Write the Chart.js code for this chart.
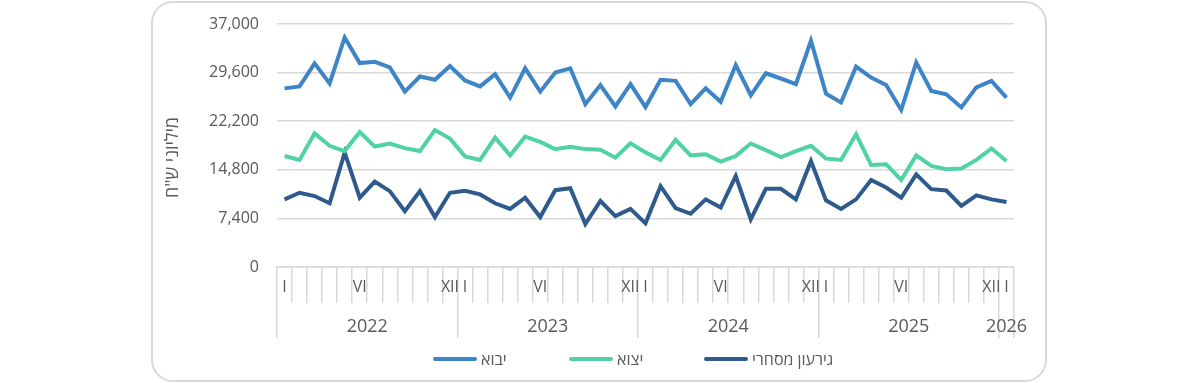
<!DOCTYPE html>
<html>
<head>
<meta charset="utf-8">
<script src="https://cdn.jsdelivr.net/npm/chart.js@4"></script>
<style>
html,body{margin:0;padding:0;background:#fff;width:1200px;height:383px;overflow:hidden;}
#frame{position:absolute;left:151px;top:1px;width:892px;height:377px;border:2px solid #d9d9d9;border-radius:22px;}
#chart{position:absolute;left:0;top:0;}
#legend{position:absolute;left:433px;top:347px;height:24px;display:flex;align-items:center;font-family:'Open Sans','Noto Sans','DejaVu Sans',sans-serif;font-size:16px;color:#595959;}
.item{display:flex;align-items:center;}
.swatch{width:44px;height:4px;border-radius:2px;}
.txt{margin-left:4px;white-space:nowrap;}
</style>
</head>
<body>
<div id="frame"></div>
<canvas id="chart" width="1200" height="383"></canvas>
<div id="legend"></div>
<script>
// ---- data ----
const monthTickLabels = [
  'I','','','','','VI','','','','','','XII',
  'I','','','','','VI','','','','','','XII',
  'I','','','','','VI','','','','','','XII',
  'I','','','','','VI','','','','','','XII',
  'I'
];
const yearLabels = ['2022','2023','2024','2025','2026'];
const yearCenters = [5.5, 17.5, 29.5, 41.5, 48];
const yearBoundaries = [-0.5, 11.5, 23.5, 35.5, 47.5, 48.5];
const yTickValues = [0, 7400, 14800, 22200, 29600, 37000];
const seriesNames = ['יבוא', 'יצוא', 'גירעון מסחרי'];
const seriesColors = ['#3d85c6', '#50d2a5', '#2f5a8c'];
const axisTitle = 'מיליוני ש"ח';

const imports = [
  27200,27500,31000,27950,34950,31050,31250,30400,26700,29000,28500,30600,
  28400,27500,29350,25800,30250,26700,29600,30250,24800,27700,24450,27850,
  24350,28500,28350,24800,27200,25150,30750,26150,29500,28700,27850,34450,
  26400,25050,30500,28850,27700,23900,31150,26800,26300,24300,27350,28350,
  25800
];
const exportsData = [
  16900,16300,20350,18450,17650,20550,18350,18800,18100,17650,20850,19550,
  16850,16300,19700,17000,19850,19050,17950,18300,17950,17850,16650,18850,
  17450,16300,19350,17000,17150,16050,16900,18800,17800,16750,17650,18450,
  16500,16300,20200,15550,15650,13250,17000,15400,14900,15000,16300,18050,
  16150
];
const deficit = [
  10300,11300,10800,9700,17400,10550,13000,11550,8500,11550,7600,11300,
  11600,11050,9700,8850,10550,7600,11700,12000,6550,10050,7750,8850,
  6650,12300,8950,8100,10300,9050,13850,7250,11900,11900,10300,16150,
  10150,8850,10300,13250,12100,10550,14100,11850,11650,9300,10900,10300,
  9900
];

// ---- chart ----
const FONT = "'Open Sans','Noto Sans','DejaVu Sans',sans-serif";
const GRID = '#d9d9d9';
const TXT = '#595959';
const seriesData = [imports, exportsData, deficit];

const datasets = seriesNames.map((n, i) => ({
  label: n,
  data: seriesData[i],
  borderColor: seriesColors[i],
  backgroundColor: seriesColors[i],
  borderWidth: 4,
  pointRadius: 0,
  tension: 0,
  fill: false,
  xAxisID: 'x',
  yAxisID: 'y'
}));

// y-axis title drawn as canvas text, slightly below the axis middle as in the original
const yTitlePlugin = {
  id: 'yTitle',
  afterDraw(chart) {
    const ctx = chart.ctx, a = chart.chartArea, y = chart.scales.y;
    ctx.save();
    ctx.translate(y.left + 15, (a.top + a.bottom) / 2 + 12);
    ctx.rotate(-Math.PI / 2);
    ctx.font = "18px " + FONT;
    ctx.fillStyle = TXT;
    ctx.textAlign = 'center';
    ctx.textBaseline = 'middle';
    ctx.fillText(axisTitle, 0, 0);
    ctx.restore();
  }
};

new Chart(document.getElementById('chart'), {
  type: 'line',
  data: { labels: monthTickLabels, datasets },
  plugins: [yTitlePlugin],
  options: {
    responsive: false,
    devicePixelRatio: 1,
    animation: false,
    layout: { padding: { left: 158, right: 186, top: 24, bottom: 45 } },
    plugins: { legend: { display: false }, tooltip: { enabled: false } },
    scales: {
      y: {
        min: 0, max: 37000,
        afterBuildTicks: s => { s.ticks = yTickValues.map(v => ({ value: v })); },
        afterFit: s => { s.width = 119; s.paddingTop = 0; s.paddingBottom = 0; },
        ticks: {
          padding: 18,
          color: TXT,
          font: { family: FONT, size: 16 },
          callback: v => Number(v).toLocaleString('en-US')
        },
        grid: { color: GRID, lineWidth: 1.5, drawTicks: false },
        border: { display: false },
        title: { display: false }
      },
      x: {
        type: 'category',
        position: 'bottom',
        weight: 1,
        offset: true,
        afterFit: s => { s.height = 36; s.paddingLeft = 0; s.paddingRight = 0; },
        grid: { offset: true, drawOnChartArea: false, drawTicks: true, tickLength: 36, color: GRID, lineWidth: 1.5 },
        border: { display: true, color: GRID, width: 1.5 },
        ticks: {
          autoSkip: false, maxRotation: 0, minRotation: 0,
          padding: -25,
          color: TXT,
          font: { family: FONT, size: 16 }
        }
      },
      x2: {
        type: 'linear',
        position: 'bottom',
        weight: 2,
        min: -0.5, max: 48.5,
        offset: false,
        afterBuildTicks: s => {
          s.ticks = yearBoundaries.map(v => ({ value: v })).concat(yearCenters.map(v => ({ value: v })));
        },
        afterFit: s => { s.height = 35; s.paddingLeft = 0; s.paddingRight = 0; },
        grid: {
          drawOnChartArea: false, drawTicks: true, tickLength: 35, lineWidth: 1.5,
          color: ctx => (ctx.tick && yearBoundaries.includes(ctx.tick.value)) ? GRID : 'rgba(0,0,0,0)'
        },
        border: { display: false },
        ticks: {
          autoSkip: false, maxRotation: 0, minRotation: 0,
          padding: -22,
          color: TXT,
          font: { family: FONT, size: 18 },
          callback: v => { const k = yearCenters.indexOf(v); return k >= 0 ? yearLabels[k] : ''; }
        }
      }
    }
  }
});

// ---- legend (HTML, real text) ----
const legend = document.getElementById('legend');
const itemWidths = [136, 135, null];
seriesNames.forEach((n, i) => {
  const it = document.createElement('div');
  it.className = 'item';
  if (itemWidths[i]) it.style.width = itemWidths[i] + 'px';
  const sw = document.createElement('span');
  sw.className = 'swatch';
  sw.style.background = seriesColors[i];
  const tx = document.createElement('span');
  tx.className = 'txt';
  tx.dir = 'rtl';
  tx.textContent = n;
  it.appendChild(sw); it.appendChild(tx);
  legend.appendChild(it);
});
</script>
</body>
</html>
